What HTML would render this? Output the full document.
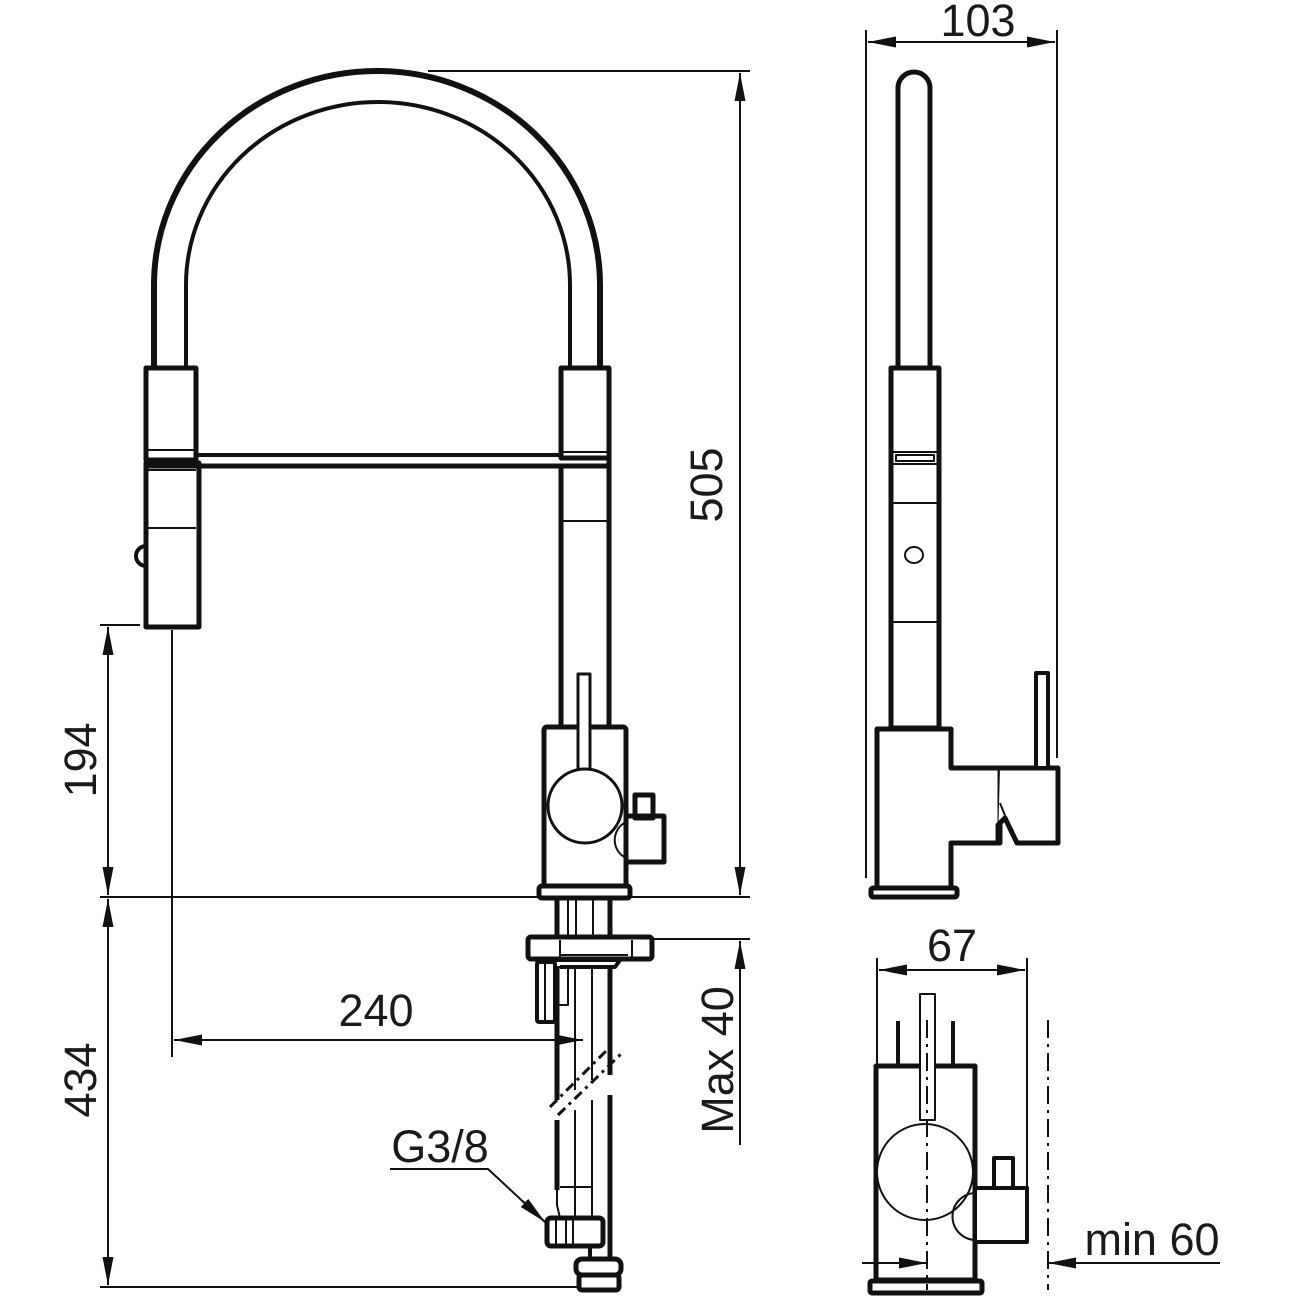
<!DOCTYPE html>
<html><head><meta charset="utf-8"><style>
html,body{margin:0;padding:0;background:#fff}
svg{display:block}
text{font-family:"Liberation Sans",sans-serif;fill:#1a1a1a}
</style></head><body>
<svg width="1296" height="1296" viewBox="0 0 1296 1296" xmlns="http://www.w3.org/2000/svg">
<defs>
<marker id="a" viewBox="0 0 28 11" refX="28" refY="5.5" markerWidth="28" markerHeight="11" markerUnits="userSpaceOnUse" orient="auto-start-reverse"><path d="M0,0 L28,5.5 L0,11 z" fill="#111"/></marker>
</defs>
<g fill="none" stroke="#111" stroke-linejoin="round">
<path d="M154,368 V285 A223,214 0 0 1 600,285 V368" stroke-width="6"/>
<path d="M186,368 V285 A192,183 0 0 1 570,285 V368" stroke-width="4"/>
<rect x="146" y="368" width="50" height="92" stroke-width="5"/>
<line x1="148" y1="450" x2="194" y2="450" stroke-width="2"/>
<rect x="146" y="463" width="53" height="164" stroke-width="5"/>
<line x1="148" y1="470" x2="196" y2="470" stroke-width="2"/>
<line x1="148" y1="528" x2="196" y2="528" stroke-width="2"/>
<path d="M146,546 A10,10 0 0 0 146,566" stroke-width="4"/>
<line x1="196" y1="455" x2="562" y2="455" stroke-width="4"/>
<line x1="148" y1="466" x2="610" y2="466" stroke-width="5"/>
<rect x="561" y="368" width="48" height="90" stroke-width="5"/>
<line x1="563" y1="452" x2="607" y2="452" stroke-width="2"/>
<line x1="561" y1="466" x2="561" y2="728" stroke-width="5"/>
<line x1="609" y1="458" x2="609" y2="728" stroke-width="5"/>
<line x1="563" y1="521" x2="607" y2="521" stroke-width="2"/>
<rect x="544" y="727" width="82" height="161" rx="3" stroke-width="5"/>
<rect x="578" y="674" width="12" height="96" stroke-width="3" fill="#fff"/>
<circle cx="585" cy="806" r="37" stroke-width="3" fill="#fff"/>
<rect x="635" y="795" width="18" height="23" stroke-width="5" fill="#fff"/>
<path d="M626,816 H664 V862 H626" stroke-width="5"/>
<path d="M626,822 A20,20 0 0 0 626,858" stroke-width="2"/>
<rect x="539" y="886" width="91" height="12" rx="3" stroke-width="5" fill="#fff"/>
<line x1="557" y1="898" x2="557" y2="940" stroke-width="5"/>
<line x1="610" y1="898" x2="610" y2="940" stroke-width="5"/>
<line x1="568" y1="898" x2="568" y2="938" stroke-width="2"/>
<line x1="576" y1="900" x2="576" y2="938" stroke-width="2"/>
<line x1="593" y1="900" x2="593" y2="938" stroke-width="2"/>
<rect x="528" y="937" width="124" height="22" rx="3" stroke-width="5" fill="#fff"/>
<line x1="560" y1="940" x2="560" y2="958" stroke-width="2"/>
<line x1="632" y1="940" x2="632" y2="958" stroke-width="2"/>
<line x1="560" y1="955" x2="628" y2="955" stroke-width="2"/>
<path d="M540,960 H620 L615,967 H560" stroke-width="4"/>
<rect x="537" y="962" width="18" height="60" rx="2" stroke-width="4"/>
<line x1="545" y1="962" x2="545" y2="1020" stroke-width="2"/>
<rect x="558" y="967" width="10" height="38" stroke-width="2"/>
<line x1="557" y1="967" x2="557" y2="1100" stroke-width="5"/>
<line x1="557" y1="1120" x2="557" y2="1190" stroke-width="5"/>
<line x1="610" y1="967" x2="610" y2="1075" stroke-width="5"/>
<line x1="610" y1="1095" x2="610" y2="1260" stroke-width="5"/>
<line x1="575" y1="967" x2="575" y2="1090" stroke-width="2"/>
<line x1="575" y1="1110" x2="575" y2="1190" stroke-width="2"/>
<line x1="592" y1="967" x2="592" y2="1080" stroke-width="2"/>
<line x1="592" y1="1100" x2="592" y2="1190" stroke-width="2"/>
<line x1="550" y1="1107" x2="612" y2="1045" stroke-width="3" stroke-dasharray="10,5,3,5"/>
<line x1="558" y1="1115" x2="622" y2="1053" stroke-width="3" stroke-dasharray="10,5,3,5"/>
<path d="M557,1190 V1205 L560,1218 M575,1190 V1218 M592,1190 V1218 M560,1187 H593" stroke-width="2"/>
<rect x="547" y="1218" width="56" height="28" rx="4" stroke-width="5" fill="#fff"/>
<line x1="556" y1="1220" x2="556" y2="1244" stroke-width="2"/>
<line x1="566" y1="1220" x2="566" y2="1244" stroke-width="2"/>
<line x1="573" y1="1220" x2="573" y2="1244" stroke-width="2"/>
<line x1="590" y1="1246" x2="590" y2="1260" stroke-width="4"/>
<rect x="576" y="1259" width="45" height="16" rx="6" stroke-width="5" fill="#fff"/>
<rect x="579" y="1275" width="40" height="15" rx="3" stroke-width="5" fill="#fff"/>
</g>

<g stroke="#111" stroke-width="2" fill="none">
<line x1="428" y1="71" x2="750" y2="71"/>
<line x1="100" y1="897" x2="750" y2="897"/>
<line x1="653" y1="939" x2="750" y2="939"/>
<line x1="100" y1="625" x2="140" y2="625"/>
<line x1="100" y1="1287" x2="580" y2="1287"/>
<line x1="172" y1="630" x2="172" y2="1057"/>
<line x1="740" y1="73" x2="740" y2="895" marker-start="url(#a)" marker-end="url(#a)"/>
<line x1="740" y1="941" x2="740" y2="1145" marker-start="url(#a)"/>
<line x1="108" y1="627" x2="108" y2="895" marker-start="url(#a)" marker-end="url(#a)"/>
<line x1="108" y1="899" x2="108" y2="1285" marker-start="url(#a)" marker-end="url(#a)"/>
<line x1="174" y1="1040" x2="583" y2="1040" marker-start="url(#a)" marker-end="url(#a)"/>
<polyline points="390,1169 488,1169 545,1222" marker-end="url(#a)"/>
</g>
<g font-size="45">
<text x="722" y="485" text-anchor="middle" transform="rotate(-90 722 485)" dy="0">505</text>
<text x="96" y="760" text-anchor="middle" transform="rotate(-90 96 760)">194</text>
<text x="96" y="1080" text-anchor="middle" transform="rotate(-90 96 1080)">434</text>
<text x="733" y="1060" text-anchor="middle" transform="rotate(-90 733 1060)">Max 40</text>
<text x="376" y="1026" text-anchor="middle">240</text>
<text x="440" y="1162" text-anchor="middle">G3/8</text>
<text x="978" y="36" text-anchor="middle">103</text>
<text x="952" y="961" text-anchor="middle">67</text>
<text x="1152" y="1255" text-anchor="middle">min 60</text>
</g>

<g fill="none" stroke="#111" stroke-linejoin="round">
<path d="M898,368 V88 A16,16 0 0 1 930,88 V368" stroke-width="5"/>
<rect x="891" y="368" width="48" height="360" stroke-width="5"/>
<line x1="893" y1="452" x2="937" y2="452" stroke-width="2"/>
<line x1="893" y1="464" x2="937" y2="464" stroke-width="2"/>
<rect x="896" y="455" width="38" height="6" stroke-width="2"/>
<line x1="893" y1="503" x2="937" y2="503" stroke-width="2"/>
<ellipse cx="914" cy="555" rx="9" ry="8" stroke-width="2"/>
<line x1="893" y1="622" x2="937" y2="622" stroke-width="2"/>
<path d="M877,729 H951 V768 H1000 V843 H951 V888 H877 Z" stroke-width="5" fill="#fff"/>
<path d="M1000,768 H1058 V843 H1017 L1005,818 L998,825 V843" stroke-width="5" fill="#fff"/>
<line x1="1000" y1="803" x2="1010" y2="828" stroke-width="2"/>
<rect x="1036" y="673" width="12" height="95" stroke-width="4" fill="#fff"/>
<rect x="871" y="888" width="86" height="9" rx="2" stroke-width="5" fill="#fff"/>
</g>
<g stroke="#111" stroke-width="2" fill="none">
<line x1="866" y1="30" x2="866" y2="878"/>
<line x1="1057" y1="30" x2="1057" y2="758"/>
<line x1="868" y1="42" x2="1055" y2="42" marker-start="url(#a)" marker-end="url(#a)"/>
<line x1="877" y1="958" x2="877" y2="1284"/>
<line x1="1027" y1="958" x2="1027" y2="1190"/>
<line x1="879" y1="970" x2="1025" y2="970" marker-start="url(#a)" marker-end="url(#a)"/>
</g>

<g fill="none" stroke="#111" stroke-linejoin="round">
<rect x="876" y="1066" width="99" height="214" stroke-width="5"/>
<line x1="898" y1="1021" x2="898" y2="1066" stroke-width="4"/>
<line x1="953" y1="1021" x2="953" y2="1066" stroke-width="4"/>
<rect x="920" y="994" width="15" height="126" stroke-width="2" fill="#fff"/>
<circle cx="925" cy="1172" r="48" stroke-width="2" fill="#fff"/>
<rect x="994" y="1158" width="19" height="32" stroke-width="4" fill="#fff"/>
<rect x="975" y="1188" width="52" height="54" stroke-width="4" fill="#fff"/>
<path d="M976,1193 A22,22 0 0 0 976,1240" stroke-width="2"/>
<rect x="870" y="1281" width="112" height="12" rx="2" stroke-width="5" fill="#fff"/>
<line x1="927" y1="1020" x2="927" y2="1290" stroke-width="2" stroke-dasharray="18,6,3,6"/>
<line x1="1048" y1="1020" x2="1048" y2="1290" stroke-width="2" stroke-dasharray="18,6,3,6"/>
<line x1="862" y1="1263" x2="927" y2="1263" stroke-width="2" marker-end="url(#a)"/>
<line x1="1220" y1="1263" x2="1048" y2="1263" stroke-width="2" marker-end="url(#a)"/>
</g>
</svg>
</body></html>
